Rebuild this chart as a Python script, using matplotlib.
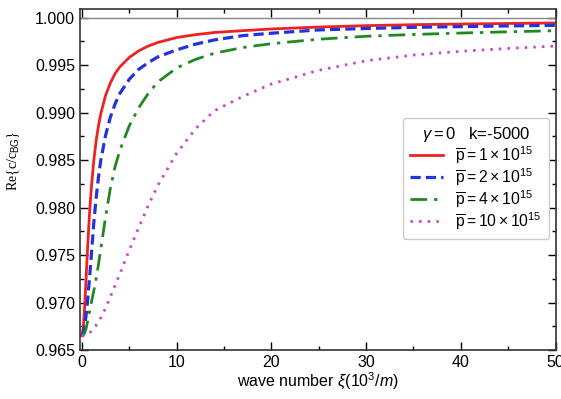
import matplotlib
matplotlib.use("Agg")
import matplotlib.pyplot as plt
from matplotlib.ticker import MultipleLocator, FormatStrFormatter

plt.rcParams['font.family'] = ['Liberation Sans', 'DejaVu Sans']
plt.rcParams['mathtext.fontset'] = 'custom'
plt.rcParams['mathtext.rm'] = 'Liberation Sans'
plt.rcParams['mathtext.it'] = 'Liberation Sans:italic'

# wave number xi (10^3 / m)
xi = [0, 0.15, 0.3, 0.45, 0.6, 0.8, 1.0, 1.25, 1.5, 1.75, 2.0, 2.5, 3.0, 3.5,
      4, 5, 6, 7, 8, 10, 12, 14, 17, 20, 25, 30, 35, 40, 45, 50]

re_p1 = [0.9665, 0.9674, 0.9697, 0.9727, 0.9757, 0.9793, 0.9821, 0.9849,
         0.9870, 0.9886, 0.9899, 0.9918, 0.9931, 0.9941, 0.9948, 0.9958,
         0.9965, 0.9970, 0.99737, 0.9979, 0.9982, 0.99843, 0.99862, 0.9988,
         0.9990, 0.99915, 0.99925, 0.99932, 0.99938, 0.99943]
re_p2 = [0.9665, 0.9668, 0.9676, 0.9687, 0.9702, 0.9725, 0.9750, 0.9783,
         0.9810, 0.9832, 0.9850, 0.9876, 0.9895, 0.9909, 0.9920, 0.9935,
         0.99455, 0.99525, 0.99585, 0.9966, 0.9972, 0.99765, 0.9981, 0.99835,
         0.9987, 0.99885, 0.99897, 0.99905, 0.99912, 0.99918]
re_p4 = [0.9665, 0.9666, 0.9668, 0.9673, 0.9680, 0.9690, 0.9700, 0.9712,
         0.9725, 0.9740, 0.9757, 0.9790, 0.9820, 0.9843, 0.9860, 0.9886,
         0.9905, 0.9920, 0.9932, 0.9947, 0.9956, 0.99625, 0.99685, 0.99725,
         0.99772, 0.99803, 0.99822, 0.99837, 0.9985, 0.99862]
re_p10 = [0.9665, 0.9665, 0.9665, 0.9666, 0.9667, 0.9668, 0.9670, 0.9673,
          0.9676, 0.9680, 0.9684, 0.9694, 0.9706, 0.9718, 0.9730, 0.9755,
          0.9779, 0.9802, 0.9823, 0.9857, 0.9883, 0.9902, 0.9917, 0.9930,
          0.99445, 0.99545, 0.99605, 0.99645, 0.99675, 0.9970]

labels = [r'$\overline{\mathrm{p}}=1\times10^{15}$',
          r'$\overline{\mathrm{p}}=2\times10^{15}$',
          r'$\overline{\mathrm{p}}=4\times10^{15}$',
          r'$\overline{\mathrm{p}}=10\times10^{15}$']

fig = plt.figure(figsize=(5.61, 3.99), dpi=100)
ax = fig.add_axes([0.1426, 0.1228, 0.8476, 0.8546])

ax.axhline(1.0, color='#888888', lw=1.0)
ax.plot(xi, re_p1, color='#ee2222', lw=2.0, ls='-', label=labels[0])
ax.plot(xi, re_p2, color='#2233dd', lw=2.3, ls=(0, (3.2, 1.6)), label=labels[1])
ax.plot(xi, re_p4, color='#228822', lw=2.0, ls=(0, (6, 2.5, 1.2, 2.5)), label=labels[2])
ax.plot(xi, re_p10, color='#cc44cc', lw=2.0, ls=(0, (0.9, 2.2)), label=labels[3])

ax.set_xlim(-0.2, 50)
ax.set_ylim(0.965, 1.0009)
ax.xaxis.set_major_locator(MultipleLocator(10))
ax.xaxis.set_minor_locator(MultipleLocator(5))
ax.yaxis.set_major_locator(MultipleLocator(0.005))
ax.yaxis.set_minor_locator(MultipleLocator(0.0025))
ax.yaxis.set_major_formatter(FormatStrFormatter('%.3f'))
ax.tick_params(which='both', direction='in', top=True, right=True,
               labelsize=11.5, width=1.0)
ax.tick_params(which='major', length=6)
ax.tick_params(which='minor', length=3)
for s in ax.spines.values():
    s.set_linewidth(1.2)
    s.set_color('#333333')

ax.set_xlabel(r'wave number $\xi(10^3/m)$', fontsize=11.5, labelpad=0)
ax.set_ylabel(r'Re{c/c$_{\mathrm{BG}}$}', fontsize=10, family='Liberation Serif')
ax.yaxis.set_label_coords(-0.121, 0.554)

leg = ax.legend(loc='upper left', bbox_to_anchor=(0.679, 0.68), borderaxespad=0,
                title=r'$\gamma=0$   k=-5000', fontsize=11.3, title_fontsize=12,
                handlelength=2.1, handletextpad=0.8, framealpha=1,
                edgecolor='#cccccc', borderpad=0.45, labelspacing=0.0)

fig.savefig('out.png', dpi=100)
